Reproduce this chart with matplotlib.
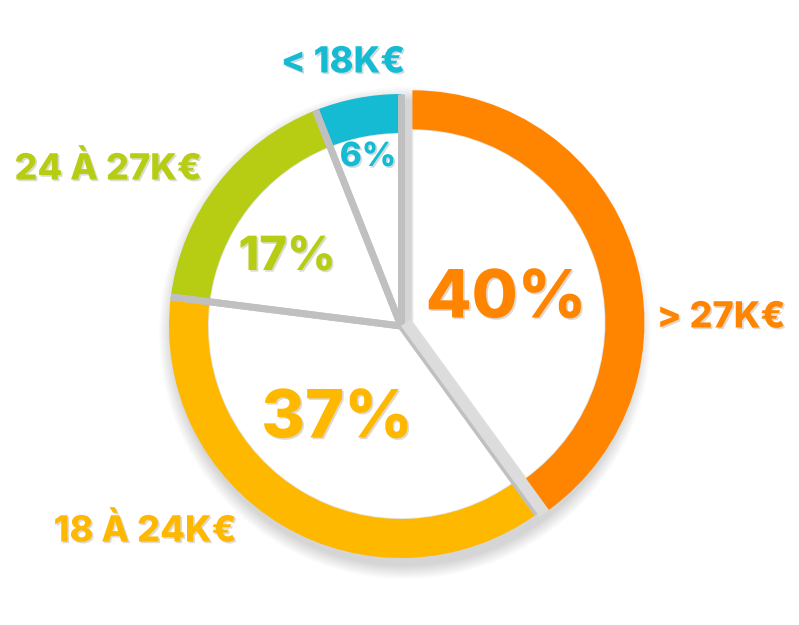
import matplotlib.pyplot as plt
import matplotlib.patches as mpatches
import matplotlib.patheffects as pe
import numpy as np

# salary brackets and their shares
labels = ['> 27K€', '18 À 24K€', '24 À 27K€', '< 18K€']
shares = [40, 37, 17, 6]
pct_text = ['40%', '37%', '17%', '6%']
colors = ['#FF8500', '#FFB800', '#B6CD14', '#15BBD3']
explode = [12, 0, 0, 0]

plt.rcParams['font.family'] = ['Inter', 'DejaVu Sans']

fig = plt.figure(figsize=(7.99, 6.25), dpi=100)
ax = fig.add_axes([0, 0, 1, 1])

R = 232
ring = 39
cx, cy = 401, 299

# soft drop shadow under the whole pie
for k in range(14):
    ax.add_patch(mpatches.Circle((cx + 4, cy - 7), R + 14 - k, color='k',
                                 alpha=0.011, lw=0, zorder=0))

# white inner part of each slice
inner, _ = ax.pie(shares, radius=R - ring, center=(cx, cy), startangle=90,
                  counterclock=False, explode=explode,
                  colors=['white'] * 4,
                  wedgeprops={'edgecolor': '#e4e4e4', 'linewidth': 1.2})
for w in inner:
    w.set_zorder(2)

# colored outer ring
outer, _ = ax.pie(shares, radius=R, center=(cx, cy), startangle=90,
                  counterclock=False, explode=explode, colors=colors,
                  wedgeprops={'width': ring, 'edgecolor': 'none'})
for w in outer:
    w.set_zorder(3)

# grey side walls between slices
for i, w in enumerate(outer):
    if explode[i]:
        continue
    x0, y0 = w.center
    for th in (w.theta1, w.theta2):
        t = np.deg2rad(th)
        ax.plot([x0, x0 + w.r * np.cos(t)], [y0, y0 + w.r * np.sin(t)],
                color='#c0c0c0', lw=5, solid_capstyle='butt', zorder=4)

# light strip filling the gap left by the exploded slice
wy, wo = outer[1], outer[0]
t = np.deg2rad(wy.theta2)
nrm = np.array([np.cos(t + np.pi / 2), np.sin(t + np.pi / 2)])
gap = abs(np.dot(np.array(wo.center) - np.array(wy.center), nrm))
sx, sy = np.array(wy.center) + nrm * gap / 2
ax.plot([sx, sx + (R + 4) * np.cos(t)], [sy, sy + (R + 4) * np.sin(t)],
        color='#dcdcdc', lw=gap * 0.72, solid_capstyle='butt', zorder=5)

shadow = [pe.withSimplePatchShadow(offset=(1.2, -1.2), alpha=0.18)]

pct_pos = [(506, 300), (337, 420), (287, 258), (368, 157)]
pct_size = [48, 48, 34, 24]
for txt, (x, y), s, c in zip(pct_text, pct_pos, pct_size, colors):
    ax.text(x, 625 - y, txt, color=c, fontsize=s, fontweight='heavy',
            ha='center', va='center', zorder=6, path_effects=shadow)

lab_pos = [(721, 318), (145, 531), (108, 169), (343, 63)]
for txt, (x, y), c in zip(labels, lab_pos, colors):
    ax.text(x, 625 - y, txt, color=c, fontsize=26, fontweight='heavy',
            ha='center', va='center', zorder=6, path_effects=shadow)

ax.set_xlim(0, 799)
ax.set_ylim(0, 625)
ax.set_aspect('equal')
ax.axis('off')

fig.savefig('out.png', dpi=100, facecolor='white')
